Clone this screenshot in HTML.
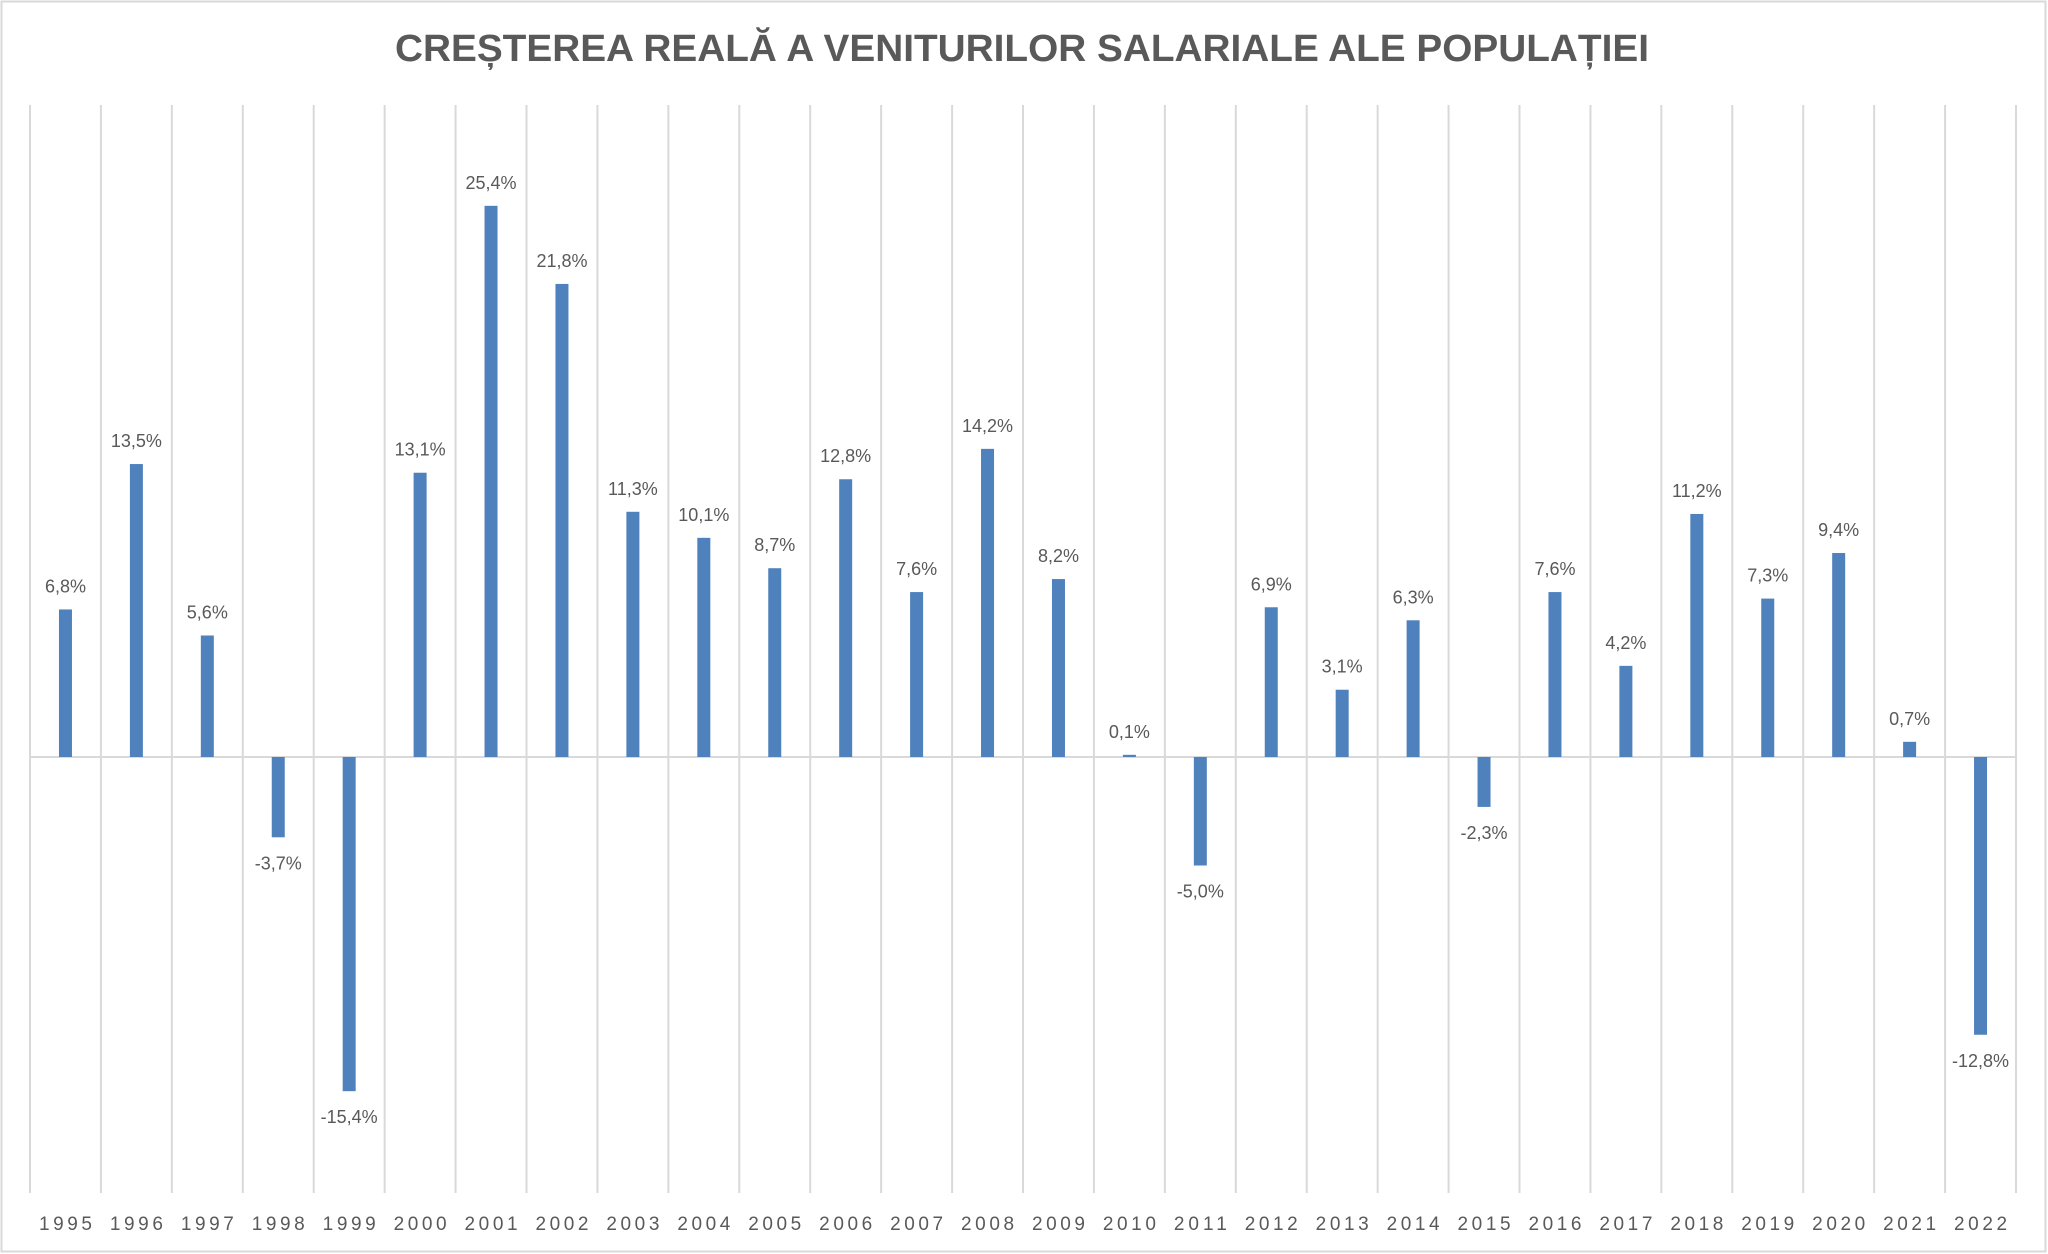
<!DOCTYPE html>
<html><head><meta charset="utf-8"><style>
html,body{margin:0;padding:0;background:#fff;}
svg{display:block;}
</style></head><body>
<svg width="2048" height="1254" xmlns="http://www.w3.org/2000/svg" font-family="'Liberation Sans', sans-serif">
<rect x="1.5" y="1.5" width="2044" height="1250" fill="#fff" stroke="#d9d9d9" stroke-width="2"/>
<text x="1022" y="61" text-anchor="middle" font-size="38" font-weight="bold" fill="#595959" textLength="1254" lengthAdjust="spacingAndGlyphs">CREȘTEREA REALĂ A VENITURILOR SALARIALE ALE POPULAȚIEI</text>
<g id="grid" stroke="#d9d9d9" stroke-width="2"></g>
<line x1="30" y1="757" x2="2016" y2="757" stroke="#d9d9d9" stroke-width="2"/>
<g id="bars" fill="#4f81bd"></g>
<g id="labels" font-size="18" fill="#595959" text-anchor="middle"></g>
<g id="years" font-size="19" fill="#595959" text-anchor="middle"></g>
</svg>
<script>
var vals=[6.8,13.5,5.6,-3.7,-15.4,13.1,25.4,21.8,11.3,10.1,8.7,12.8,7.6,14.2,8.2,0.1,-5.0,6.9,3.1,6.3,-2.3,7.6,4.2,11.2,7.3,9.4,0.7,-12.8];
var ns="http://www.w3.org/2000/svg";
function el(t,a,p,txt){var e=document.createElementNS(ns,t);for(var k in a)e.setAttribute(k,a[k]);if(txt!=null)e.textContent=txt;document.getElementById(p).appendChild(e);}
var x0=30,w=(2016-30)/28,z=757,s=21.7;
for(var i=0;i<=28;i++){var x=x0+i*w;el('line',{x1:x,y1:105,x2:x,y2:1193},'grid');}
for(var i=0;i<28;i++){
 var c=x0+(i+0.5)*w,v=vals[i],h=Math.abs(v)*s;
 var y=v>=0?z-h:z;
 el('rect',{x:c-6.5,y:y,width:13,height:Math.max(h,1.5)},'bars');
 var lbl=(v.toFixed(1)).replace('.',',')+'%';
 var ly=v>=0?z-h-17:z+h+32;
 el('text',{x:c,y:ly},'labels',lbl);
 el('text',{x:c,y:1230,textLength:53,lengthAdjust:'spacing'},'years',String(1995+i));
}
</script>
</body></html>
